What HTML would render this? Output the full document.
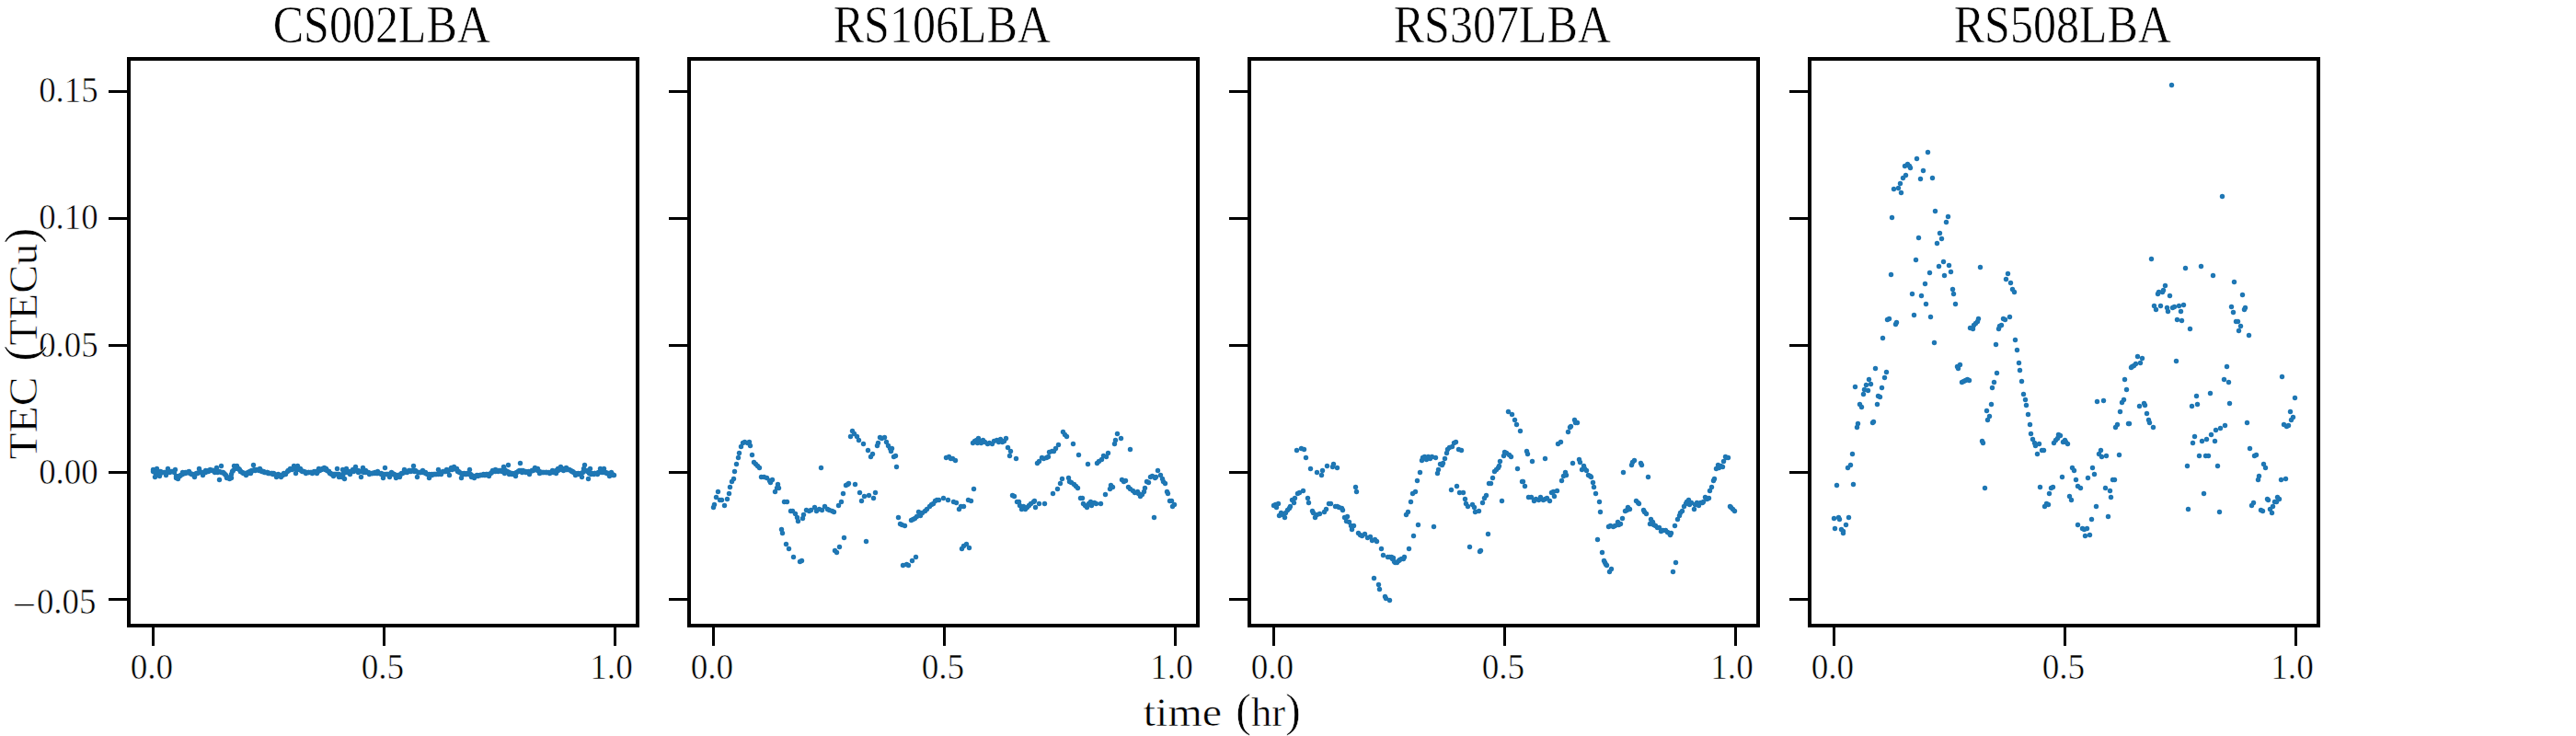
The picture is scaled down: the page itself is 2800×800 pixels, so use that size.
<!DOCTYPE html>
<html lang="en"><head><meta charset="utf-8"><title>TEC vs time</title>
<style>html,body{margin:0;padding:0;background:#fff;}body{width:2800px;height:800px;overflow:hidden;}svg{display:block;}text{font-family:"Liberation Serif", "DejaVu Serif", serif;fill:#000;stroke:#fff;stroke-width:0.55px;}</style></head><body>
<svg width="2800" height="800" viewBox="0 0 2800 800">
<rect width="2800" height="800" fill="#fff"/>
<g transform="translate(0,0)">
<g fill="#1f77b4">
<circle cx="166.5" cy="510.5" r="2.70"/>
<circle cx="168.5" cy="518.5" r="2.70"/>
<circle cx="170.5" cy="509.5" r="2.70"/>
<circle cx="173.5" cy="517.5" r="2.70"/>
<circle cx="174.5" cy="512.5" r="2.70"/>
<circle cx="180.5" cy="516.5" r="2.70"/>
<circle cx="182.5" cy="509.5" r="2.70"/>
<circle cx="184.5" cy="513.5" r="2.70"/>
<circle cx="187.5" cy="512.5" r="2.70"/>
<circle cx="190.5" cy="510.5" r="2.70"/>
<circle cx="191.5" cy="519.5" r="2.70"/>
<circle cx="193.5" cy="520.5" r="2.70"/>
<circle cx="195.5" cy="517.5" r="2.70"/>
<circle cx="198.5" cy="513.5" r="2.70"/>
<circle cx="201.5" cy="514.5" r="2.70"/>
<circle cx="203.5" cy="513.5" r="2.70"/>
<circle cx="205.5" cy="512.5" r="2.70"/>
<circle cx="208.5" cy="515.5" r="2.70"/>
<circle cx="211.5" cy="518.5" r="2.70"/>
<circle cx="214.5" cy="514.5" r="2.70"/>
<circle cx="216.5" cy="509.5" r="2.70"/>
<circle cx="219.5" cy="513.5" r="2.70"/>
<circle cx="220.5" cy="516.5" r="2.70"/>
<circle cx="223.5" cy="511.5" r="2.70"/>
<circle cx="226.5" cy="512.5" r="2.70"/>
<circle cx="228.5" cy="510.5" r="2.70"/>
<circle cx="231.5" cy="511.5" r="2.70"/>
<circle cx="233.5" cy="513.5" r="2.70"/>
<circle cx="235.5" cy="508.5" r="2.70"/>
<circle cx="240.5" cy="506.5" r="2.70"/>
<circle cx="238.5" cy="521.5" r="2.70"/>
<circle cx="242.5" cy="513.5" r="2.70"/>
<circle cx="244.5" cy="515.5" r="2.70"/>
<circle cx="246.5" cy="519.5" r="2.70"/>
<circle cx="249.5" cy="520.5" r="2.70"/>
<circle cx="251.5" cy="519.5" r="2.70"/>
<circle cx="252.5" cy="512.5" r="2.70"/>
<circle cx="254.5" cy="506.5" r="2.70"/>
<circle cx="257.5" cy="506.5" r="2.70"/>
<circle cx="259.5" cy="509.5" r="2.70"/>
<circle cx="261.5" cy="512.5" r="2.70"/>
<circle cx="264.5" cy="514.5" r="2.70"/>
<circle cx="267.5" cy="516.5" r="2.70"/>
<circle cx="269.5" cy="513.5" r="2.70"/>
<circle cx="272.5" cy="514.5" r="2.70"/>
<circle cx="275.5" cy="505.5" r="2.70"/>
<circle cx="277.5" cy="511.5" r="2.70"/>
<circle cx="282.5" cy="509.5" r="2.70"/>
<circle cx="284.5" cy="512.5" r="2.70"/>
<circle cx="287.5" cy="513.5" r="2.70"/>
<circle cx="290.5" cy="513.5" r="2.70"/>
<circle cx="292.5" cy="514.5" r="2.70"/>
<circle cx="295.5" cy="514.5" r="2.70"/>
<circle cx="297.5" cy="514.5" r="2.70"/>
<circle cx="300.5" cy="518.5" r="2.70"/>
<circle cx="302.5" cy="515.5" r="2.70"/>
<circle cx="305.5" cy="518.5" r="2.70"/>
<circle cx="308.5" cy="514.5" r="2.70"/>
<circle cx="310.5" cy="515.5" r="2.70"/>
<circle cx="313.5" cy="511.5" r="2.70"/>
<circle cx="315.5" cy="509.5" r="2.70"/>
<circle cx="319.5" cy="506.5" r="2.70"/>
<circle cx="321.5" cy="514.5" r="2.70"/>
<circle cx="323.5" cy="506.5" r="2.70"/>
<circle cx="326.5" cy="509.5" r="2.70"/>
<circle cx="329.5" cy="512.5" r="2.70"/>
<circle cx="332.5" cy="514.5" r="2.70"/>
<circle cx="335.5" cy="513.5" r="2.70"/>
<circle cx="339.5" cy="514.5" r="2.70"/>
<circle cx="341.5" cy="512.5" r="2.70"/>
<circle cx="344.5" cy="514.5" r="2.70"/>
<circle cx="346.5" cy="509.5" r="2.70"/>
<circle cx="349.5" cy="510.5" r="2.70"/>
<circle cx="352.5" cy="508.5" r="2.70"/>
<circle cx="354.5" cy="509.5" r="2.70"/>
<circle cx="357.5" cy="512.5" r="2.70"/>
<circle cx="359.5" cy="514.5" r="2.70"/>
<circle cx="362.5" cy="517.5" r="2.70"/>
<circle cx="366.5" cy="509.5" r="2.70"/>
<circle cx="364.5" cy="515.5" r="2.70"/>
<circle cx="368.5" cy="518.5" r="2.70"/>
<circle cx="371.5" cy="518.5" r="2.70"/>
<circle cx="374.5" cy="520.5" r="2.70"/>
<circle cx="372.5" cy="510.5" r="2.70"/>
<circle cx="376.5" cy="509.5" r="2.70"/>
<circle cx="378.5" cy="512.5" r="2.70"/>
<circle cx="380.5" cy="515.5" r="2.70"/>
<circle cx="383.5" cy="510.5" r="2.70"/>
<circle cx="386.5" cy="507.5" r="2.70"/>
<circle cx="389.5" cy="513.5" r="2.70"/>
<circle cx="392.5" cy="518.5" r="2.70"/>
<circle cx="394.5" cy="508.5" r="2.70"/>
<circle cx="397.5" cy="511.5" r="2.70"/>
<circle cx="401.5" cy="515.5" r="2.70"/>
<circle cx="404.5" cy="514.5" r="2.70"/>
<circle cx="407.5" cy="513.5" r="2.70"/>
<circle cx="410.5" cy="512.5" r="2.70"/>
<circle cx="414.5" cy="515.5" r="2.70"/>
<circle cx="416.5" cy="519.5" r="2.70"/>
<circle cx="418.5" cy="508.5" r="2.70"/>
<circle cx="421.5" cy="515.5" r="2.70"/>
<circle cx="425.5" cy="513.5" r="2.70"/>
<circle cx="428.5" cy="515.5" r="2.70"/>
<circle cx="423.5" cy="518.5" r="2.70"/>
<circle cx="426.5" cy="514.5" r="2.70"/>
<circle cx="430.5" cy="519.5" r="2.70"/>
<circle cx="434.5" cy="518.5" r="2.70"/>
<circle cx="436.5" cy="514.5" r="2.70"/>
<circle cx="439.5" cy="510.5" r="2.70"/>
<circle cx="442.5" cy="513.5" r="2.70"/>
<circle cx="446.5" cy="512.5" r="2.70"/>
<circle cx="449.5" cy="506.5" r="2.70"/>
<circle cx="451.5" cy="511.5" r="2.70"/>
<circle cx="453.5" cy="518.5" r="2.70"/>
<circle cx="456.5" cy="513.5" r="2.70"/>
<circle cx="459.5" cy="511.5" r="2.70"/>
<circle cx="462.5" cy="513.5" r="2.70"/>
<circle cx="466.5" cy="519.5" r="2.70"/>
<circle cx="469.5" cy="515.5" r="2.70"/>
<circle cx="473.5" cy="515.5" r="2.70"/>
<circle cx="476.5" cy="510.5" r="2.70"/>
<circle cx="479.5" cy="515.5" r="2.70"/>
<circle cx="483.5" cy="512.5" r="2.70"/>
<circle cx="485.5" cy="510.5" r="2.70"/>
<circle cx="488.5" cy="516.5" r="2.70"/>
<circle cx="490.5" cy="508.5" r="2.70"/>
<circle cx="493.5" cy="507.5" r="2.70"/>
<circle cx="496.5" cy="509.5" r="2.70"/>
<circle cx="498.5" cy="512.5" r="2.70"/>
<circle cx="501.5" cy="519.5" r="2.70"/>
<circle cx="504.5" cy="514.5" r="2.70"/>
<circle cx="506.5" cy="515.5" r="2.70"/>
<circle cx="510.5" cy="510.5" r="2.70"/>
<circle cx="512.5" cy="518.5" r="2.70"/>
<circle cx="515.5" cy="519.5" r="2.70"/>
<circle cx="518.5" cy="516.5" r="2.70"/>
<circle cx="522.5" cy="516.5" r="2.70"/>
<circle cx="525.5" cy="515.5" r="2.70"/>
<circle cx="528.5" cy="515.5" r="2.70"/>
<circle cx="531.5" cy="517.5" r="2.70"/>
<circle cx="535.5" cy="511.5" r="2.70"/>
<circle cx="538.5" cy="510.5" r="2.70"/>
<circle cx="541.5" cy="512.5" r="2.70"/>
<circle cx="545.5" cy="512.5" r="2.70"/>
<circle cx="547.5" cy="507.5" r="2.70"/>
<circle cx="548.5" cy="514.5" r="2.70"/>
<circle cx="552.5" cy="505.5" r="2.70"/>
<circle cx="553.5" cy="515.5" r="2.70"/>
<circle cx="556.5" cy="514.5" r="2.70"/>
<circle cx="560.5" cy="517.5" r="2.70"/>
<circle cx="563.5" cy="512.5" r="2.70"/>
<circle cx="565.5" cy="503.5" r="2.70"/>
<circle cx="567.5" cy="513.5" r="2.70"/>
<circle cx="571.5" cy="512.5" r="2.70"/>
<circle cx="575.5" cy="515.5" r="2.70"/>
<circle cx="578.5" cy="511.5" r="2.70"/>
<circle cx="581.5" cy="508.5" r="2.70"/>
<circle cx="584.5" cy="509.5" r="2.70"/>
<circle cx="586.5" cy="514.5" r="2.70"/>
<circle cx="590.5" cy="513.5" r="2.70"/>
<circle cx="593.5" cy="513.5" r="2.70"/>
<circle cx="597.5" cy="514.5" r="2.70"/>
<circle cx="600.5" cy="511.5" r="2.70"/>
<circle cx="604.5" cy="514.5" r="2.70"/>
<circle cx="606.5" cy="509.5" r="2.70"/>
<circle cx="609.5" cy="507.5" r="2.70"/>
<circle cx="612.5" cy="511.5" r="2.70"/>
<circle cx="615.5" cy="508.5" r="2.70"/>
<circle cx="618.5" cy="510.5" r="2.70"/>
<circle cx="622.5" cy="512.5" r="2.70"/>
<circle cx="625.5" cy="516.5" r="2.70"/>
<circle cx="628.5" cy="514.5" r="2.70"/>
<circle cx="632.5" cy="518.5" r="2.70"/>
<circle cx="635.5" cy="505.5" r="2.70"/>
<circle cx="634.5" cy="509.5" r="2.70"/>
<circle cx="638.5" cy="512.5" r="2.70"/>
<circle cx="639.5" cy="520.5" r="2.70"/>
<circle cx="641.5" cy="509.5" r="2.70"/>
<circle cx="642.5" cy="515.5" r="2.70"/>
<circle cx="646.5" cy="514.5" r="2.70"/>
<circle cx="649.5" cy="515.5" r="2.70"/>
<circle cx="652.5" cy="509.5" r="2.70"/>
<circle cx="654.5" cy="513.5" r="2.70"/>
<circle cx="656.5" cy="509.5" r="2.70"/>
<circle cx="659.5" cy="514.5" r="2.70"/>
<circle cx="662.5" cy="517.5" r="2.70"/>
<circle cx="664.5" cy="513.5" r="2.70"/>
<circle cx="667.5" cy="516.5" r="2.70"/>
<circle cx="166.5" cy="512.5" r="2.70"/>
<circle cx="168.5" cy="513.5" r="2.70"/>
<circle cx="169.5" cy="513.5" r="2.70"/>
<circle cx="171.5" cy="514.5" r="2.70"/>
<circle cx="173.5" cy="514.5" r="2.70"/>
<circle cx="174.5" cy="514.5" r="2.70"/>
<circle cx="176.5" cy="513.5" r="2.70"/>
<circle cx="178.5" cy="513.5" r="2.70"/>
<circle cx="179.5" cy="513.5" r="2.70"/>
<circle cx="181.5" cy="513.5" r="2.70"/>
<circle cx="183.5" cy="512.5" r="2.70"/>
<circle cx="184.5" cy="512.5" r="2.70"/>
<circle cx="186.5" cy="512.5" r="2.70"/>
<circle cx="188.5" cy="512.5" r="2.70"/>
<circle cx="189.5" cy="513.5" r="2.70"/>
<circle cx="191.5" cy="517.5" r="2.70"/>
<circle cx="193.5" cy="518.5" r="2.70"/>
<circle cx="194.5" cy="517.5" r="2.70"/>
<circle cx="196.5" cy="516.5" r="2.70"/>
<circle cx="198.5" cy="515.5" r="2.70"/>
<circle cx="199.5" cy="514.5" r="2.70"/>
<circle cx="201.5" cy="513.5" r="2.70"/>
<circle cx="203.5" cy="513.5" r="2.70"/>
<circle cx="204.5" cy="513.5" r="2.70"/>
<circle cx="206.5" cy="514.5" r="2.70"/>
<circle cx="208.5" cy="515.5" r="2.70"/>
<circle cx="209.5" cy="515.5" r="2.70"/>
<circle cx="211.5" cy="515.5" r="2.70"/>
<circle cx="213.5" cy="514.5" r="2.70"/>
<circle cx="214.5" cy="514.5" r="2.70"/>
<circle cx="216.5" cy="513.5" r="2.70"/>
<circle cx="218.5" cy="513.5" r="2.70"/>
<circle cx="219.5" cy="513.5" r="2.70"/>
<circle cx="221.5" cy="513.5" r="2.70"/>
<circle cx="223.5" cy="513.5" r="2.70"/>
<circle cx="224.5" cy="512.5" r="2.70"/>
<circle cx="226.5" cy="511.5" r="2.70"/>
<circle cx="228.5" cy="511.5" r="2.70"/>
<circle cx="230.5" cy="511.5" r="2.70"/>
<circle cx="231.5" cy="511.5" r="2.70"/>
<circle cx="233.5" cy="511.5" r="2.70"/>
<circle cx="235.5" cy="512.5" r="2.70"/>
<circle cx="236.5" cy="513.5" r="2.70"/>
<circle cx="238.5" cy="512.5" r="2.70"/>
<circle cx="240.5" cy="513.5" r="2.70"/>
<circle cx="241.5" cy="513.5" r="2.70"/>
<circle cx="243.5" cy="514.5" r="2.70"/>
<circle cx="245.5" cy="516.5" r="2.70"/>
<circle cx="246.5" cy="518.5" r="2.70"/>
<circle cx="248.5" cy="519.5" r="2.70"/>
<circle cx="250.5" cy="518.5" r="2.70"/>
<circle cx="251.5" cy="515.5" r="2.70"/>
<circle cx="253.5" cy="511.5" r="2.70"/>
<circle cx="255.5" cy="509.5" r="2.70"/>
<circle cx="256.5" cy="508.5" r="2.70"/>
<circle cx="258.5" cy="509.5" r="2.70"/>
<circle cx="260.5" cy="510.5" r="2.70"/>
<circle cx="261.5" cy="512.5" r="2.70"/>
<circle cx="263.5" cy="513.5" r="2.70"/>
<circle cx="265.5" cy="514.5" r="2.70"/>
<circle cx="266.5" cy="514.5" r="2.70"/>
<circle cx="268.5" cy="514.5" r="2.70"/>
<circle cx="270.5" cy="514.5" r="2.70"/>
<circle cx="271.5" cy="512.5" r="2.70"/>
<circle cx="273.5" cy="511.5" r="2.70"/>
<circle cx="275.5" cy="511.5" r="2.70"/>
<circle cx="276.5" cy="510.5" r="2.70"/>
<circle cx="278.5" cy="510.5" r="2.70"/>
<circle cx="280.5" cy="510.5" r="2.70"/>
<circle cx="281.5" cy="511.5" r="2.70"/>
<circle cx="283.5" cy="511.5" r="2.70"/>
<circle cx="285.5" cy="512.5" r="2.70"/>
<circle cx="286.5" cy="512.5" r="2.70"/>
<circle cx="288.5" cy="513.5" r="2.70"/>
<circle cx="290.5" cy="513.5" r="2.70"/>
<circle cx="291.5" cy="514.5" r="2.70"/>
<circle cx="293.5" cy="514.5" r="2.70"/>
<circle cx="295.5" cy="514.5" r="2.70"/>
<circle cx="296.5" cy="515.5" r="2.70"/>
<circle cx="298.5" cy="515.5" r="2.70"/>
<circle cx="300.5" cy="516.5" r="2.70"/>
<circle cx="301.5" cy="516.5" r="2.70"/>
<circle cx="303.5" cy="516.5" r="2.70"/>
<circle cx="305.5" cy="516.5" r="2.70"/>
<circle cx="307.5" cy="516.5" r="2.70"/>
<circle cx="308.5" cy="515.5" r="2.70"/>
<circle cx="310.5" cy="514.5" r="2.70"/>
<circle cx="312.5" cy="512.5" r="2.70"/>
<circle cx="313.5" cy="511.5" r="2.70"/>
<circle cx="315.5" cy="510.5" r="2.70"/>
<circle cx="317.5" cy="510.5" r="2.70"/>
<circle cx="318.5" cy="509.5" r="2.70"/>
<circle cx="320.5" cy="509.5" r="2.70"/>
<circle cx="322.5" cy="509.5" r="2.70"/>
<circle cx="323.5" cy="510.5" r="2.70"/>
<circle cx="325.5" cy="510.5" r="2.70"/>
<circle cx="327.5" cy="511.5" r="2.70"/>
<circle cx="328.5" cy="512.5" r="2.70"/>
<circle cx="330.5" cy="512.5" r="2.70"/>
<circle cx="332.5" cy="513.5" r="2.70"/>
<circle cx="333.5" cy="513.5" r="2.70"/>
<circle cx="335.5" cy="513.5" r="2.70"/>
<circle cx="337.5" cy="513.5" r="2.70"/>
<circle cx="338.5" cy="513.5" r="2.70"/>
<circle cx="340.5" cy="513.5" r="2.70"/>
<circle cx="342.5" cy="513.5" r="2.70"/>
<circle cx="343.5" cy="512.5" r="2.70"/>
<circle cx="345.5" cy="512.5" r="2.70"/>
<circle cx="347.5" cy="511.5" r="2.70"/>
<circle cx="348.5" cy="510.5" r="2.70"/>
<circle cx="350.5" cy="509.5" r="2.70"/>
<circle cx="352.5" cy="509.5" r="2.70"/>
<circle cx="353.5" cy="510.5" r="2.70"/>
<circle cx="355.5" cy="511.5" r="2.70"/>
<circle cx="357.5" cy="512.5" r="2.70"/>
<circle cx="358.5" cy="514.5" r="2.70"/>
<circle cx="360.5" cy="515.5" r="2.70"/>
<circle cx="362.5" cy="515.5" r="2.70"/>
<circle cx="363.5" cy="515.5" r="2.70"/>
<circle cx="365.5" cy="515.5" r="2.70"/>
<circle cx="367.5" cy="515.5" r="2.70"/>
<circle cx="368.5" cy="515.5" r="2.70"/>
<circle cx="370.5" cy="516.5" r="2.70"/>
<circle cx="372.5" cy="517.5" r="2.70"/>
<circle cx="373.5" cy="514.5" r="2.70"/>
<circle cx="375.5" cy="513.5" r="2.70"/>
<circle cx="377.5" cy="513.5" r="2.70"/>
<circle cx="378.5" cy="512.5" r="2.70"/>
<circle cx="380.5" cy="512.5" r="2.70"/>
<circle cx="382.5" cy="512.5" r="2.70"/>
<circle cx="384.5" cy="512.5" r="2.70"/>
<circle cx="385.5" cy="511.5" r="2.70"/>
<circle cx="387.5" cy="511.5" r="2.70"/>
<circle cx="389.5" cy="511.5" r="2.70"/>
<circle cx="390.5" cy="512.5" r="2.70"/>
<circle cx="392.5" cy="512.5" r="2.70"/>
<circle cx="394.5" cy="512.5" r="2.70"/>
<circle cx="395.5" cy="513.5" r="2.70"/>
<circle cx="397.5" cy="513.5" r="2.70"/>
<circle cx="399.5" cy="513.5" r="2.70"/>
<circle cx="400.5" cy="513.5" r="2.70"/>
<circle cx="402.5" cy="514.5" r="2.70"/>
<circle cx="404.5" cy="514.5" r="2.70"/>
<circle cx="405.5" cy="514.5" r="2.70"/>
<circle cx="407.5" cy="514.5" r="2.70"/>
<circle cx="409.5" cy="514.5" r="2.70"/>
<circle cx="410.5" cy="514.5" r="2.70"/>
<circle cx="412.5" cy="514.5" r="2.70"/>
<circle cx="414.5" cy="514.5" r="2.70"/>
<circle cx="415.5" cy="515.5" r="2.70"/>
<circle cx="417.5" cy="515.5" r="2.70"/>
<circle cx="419.5" cy="515.5" r="2.70"/>
<circle cx="420.5" cy="515.5" r="2.70"/>
<circle cx="422.5" cy="515.5" r="2.70"/>
<circle cx="424.5" cy="515.5" r="2.70"/>
<circle cx="425.5" cy="515.5" r="2.70"/>
<circle cx="427.5" cy="515.5" r="2.70"/>
<circle cx="429.5" cy="516.5" r="2.70"/>
<circle cx="430.5" cy="516.5" r="2.70"/>
<circle cx="432.5" cy="516.5" r="2.70"/>
<circle cx="434.5" cy="516.5" r="2.70"/>
<circle cx="435.5" cy="515.5" r="2.70"/>
<circle cx="437.5" cy="514.5" r="2.70"/>
<circle cx="439.5" cy="513.5" r="2.70"/>
<circle cx="440.5" cy="512.5" r="2.70"/>
<circle cx="442.5" cy="512.5" r="2.70"/>
<circle cx="444.5" cy="511.5" r="2.70"/>
<circle cx="445.5" cy="511.5" r="2.70"/>
<circle cx="447.5" cy="511.5" r="2.70"/>
<circle cx="449.5" cy="511.5" r="2.70"/>
<circle cx="450.5" cy="512.5" r="2.70"/>
<circle cx="452.5" cy="512.5" r="2.70"/>
<circle cx="454.5" cy="513.5" r="2.70"/>
<circle cx="456.5" cy="513.5" r="2.70"/>
<circle cx="457.5" cy="513.5" r="2.70"/>
<circle cx="459.5" cy="513.5" r="2.70"/>
<circle cx="461.5" cy="513.5" r="2.70"/>
<circle cx="462.5" cy="514.5" r="2.70"/>
<circle cx="464.5" cy="515.5" r="2.70"/>
<circle cx="466.5" cy="515.5" r="2.70"/>
<circle cx="467.5" cy="516.5" r="2.70"/>
<circle cx="469.5" cy="516.5" r="2.70"/>
<circle cx="471.5" cy="515.5" r="2.70"/>
<circle cx="472.5" cy="515.5" r="2.70"/>
<circle cx="474.5" cy="515.5" r="2.70"/>
<circle cx="476.5" cy="515.5" r="2.70"/>
<circle cx="477.5" cy="514.5" r="2.70"/>
<circle cx="479.5" cy="513.5" r="2.70"/>
<circle cx="481.5" cy="512.5" r="2.70"/>
<circle cx="482.5" cy="512.5" r="2.70"/>
<circle cx="484.5" cy="512.5" r="2.70"/>
<circle cx="486.5" cy="512.5" r="2.70"/>
<circle cx="487.5" cy="511.5" r="2.70"/>
<circle cx="489.5" cy="510.5" r="2.70"/>
<circle cx="491.5" cy="510.5" r="2.70"/>
<circle cx="492.5" cy="509.5" r="2.70"/>
<circle cx="494.5" cy="509.5" r="2.70"/>
<circle cx="496.5" cy="510.5" r="2.70"/>
<circle cx="497.5" cy="512.5" r="2.70"/>
<circle cx="499.5" cy="513.5" r="2.70"/>
<circle cx="501.5" cy="514.5" r="2.70"/>
<circle cx="502.5" cy="515.5" r="2.70"/>
<circle cx="504.5" cy="515.5" r="2.70"/>
<circle cx="506.5" cy="515.5" r="2.70"/>
<circle cx="507.5" cy="514.5" r="2.70"/>
<circle cx="509.5" cy="515.5" r="2.70"/>
<circle cx="511.5" cy="515.5" r="2.70"/>
<circle cx="512.5" cy="516.5" r="2.70"/>
<circle cx="514.5" cy="517.5" r="2.70"/>
<circle cx="516.5" cy="517.5" r="2.70"/>
<circle cx="517.5" cy="517.5" r="2.70"/>
<circle cx="519.5" cy="517.5" r="2.70"/>
<circle cx="521.5" cy="516.5" r="2.70"/>
<circle cx="522.5" cy="516.5" r="2.70"/>
<circle cx="524.5" cy="516.5" r="2.70"/>
<circle cx="526.5" cy="516.5" r="2.70"/>
<circle cx="527.5" cy="516.5" r="2.70"/>
<circle cx="529.5" cy="515.5" r="2.70"/>
<circle cx="531.5" cy="515.5" r="2.70"/>
<circle cx="533.5" cy="514.5" r="2.70"/>
<circle cx="534.5" cy="513.5" r="2.70"/>
<circle cx="536.5" cy="512.5" r="2.70"/>
<circle cx="538.5" cy="512.5" r="2.70"/>
<circle cx="539.5" cy="511.5" r="2.70"/>
<circle cx="541.5" cy="511.5" r="2.70"/>
<circle cx="543.5" cy="511.5" r="2.70"/>
<circle cx="544.5" cy="511.5" r="2.70"/>
<circle cx="546.5" cy="511.5" r="2.70"/>
<circle cx="548.5" cy="510.5" r="2.70"/>
<circle cx="549.5" cy="511.5" r="2.70"/>
<circle cx="551.5" cy="512.5" r="2.70"/>
<circle cx="553.5" cy="513.5" r="2.70"/>
<circle cx="554.5" cy="514.5" r="2.70"/>
<circle cx="556.5" cy="515.5" r="2.70"/>
<circle cx="558.5" cy="515.5" r="2.70"/>
<circle cx="559.5" cy="514.5" r="2.70"/>
<circle cx="561.5" cy="513.5" r="2.70"/>
<circle cx="563.5" cy="512.5" r="2.70"/>
<circle cx="564.5" cy="511.5" r="2.70"/>
<circle cx="566.5" cy="511.5" r="2.70"/>
<circle cx="568.5" cy="511.5" r="2.70"/>
<circle cx="569.5" cy="512.5" r="2.70"/>
<circle cx="571.5" cy="513.5" r="2.70"/>
<circle cx="573.5" cy="513.5" r="2.70"/>
<circle cx="574.5" cy="512.5" r="2.70"/>
<circle cx="576.5" cy="512.5" r="2.70"/>
<circle cx="578.5" cy="511.5" r="2.70"/>
<circle cx="579.5" cy="511.5" r="2.70"/>
<circle cx="581.5" cy="510.5" r="2.70"/>
<circle cx="583.5" cy="510.5" r="2.70"/>
<circle cx="584.5" cy="511.5" r="2.70"/>
<circle cx="586.5" cy="512.5" r="2.70"/>
<circle cx="588.5" cy="513.5" r="2.70"/>
<circle cx="589.5" cy="513.5" r="2.70"/>
<circle cx="591.5" cy="513.5" r="2.70"/>
<circle cx="593.5" cy="513.5" r="2.70"/>
<circle cx="594.5" cy="513.5" r="2.70"/>
<circle cx="596.5" cy="513.5" r="2.70"/>
<circle cx="598.5" cy="513.5" r="2.70"/>
<circle cx="599.5" cy="513.5" r="2.70"/>
<circle cx="601.5" cy="513.5" r="2.70"/>
<circle cx="603.5" cy="512.5" r="2.70"/>
<circle cx="604.5" cy="511.5" r="2.70"/>
<circle cx="606.5" cy="511.5" r="2.70"/>
<circle cx="608.5" cy="510.5" r="2.70"/>
<circle cx="610.5" cy="509.5" r="2.70"/>
<circle cx="611.5" cy="509.5" r="2.70"/>
<circle cx="613.5" cy="509.5" r="2.70"/>
<circle cx="615.5" cy="510.5" r="2.70"/>
<circle cx="616.5" cy="510.5" r="2.70"/>
<circle cx="618.5" cy="510.5" r="2.70"/>
<circle cx="620.5" cy="511.5" r="2.70"/>
<circle cx="621.5" cy="512.5" r="2.70"/>
<circle cx="623.5" cy="513.5" r="2.70"/>
<circle cx="625.5" cy="514.5" r="2.70"/>
<circle cx="626.5" cy="515.5" r="2.70"/>
<circle cx="628.5" cy="515.5" r="2.70"/>
<circle cx="630.5" cy="515.5" r="2.70"/>
<circle cx="631.5" cy="514.5" r="2.70"/>
<circle cx="633.5" cy="513.5" r="2.70"/>
<circle cx="635.5" cy="511.5" r="2.70"/>
<circle cx="636.5" cy="511.5" r="2.70"/>
<circle cx="638.5" cy="511.5" r="2.70"/>
<circle cx="640.5" cy="514.5" r="2.70"/>
<circle cx="641.5" cy="514.5" r="2.70"/>
<circle cx="643.5" cy="514.5" r="2.70"/>
<circle cx="645.5" cy="515.5" r="2.70"/>
<circle cx="646.5" cy="514.5" r="2.70"/>
<circle cx="648.5" cy="514.5" r="2.70"/>
<circle cx="650.5" cy="513.5" r="2.70"/>
<circle cx="651.5" cy="513.5" r="2.70"/>
<circle cx="653.5" cy="512.5" r="2.70"/>
<circle cx="655.5" cy="512.5" r="2.70"/>
<circle cx="656.5" cy="513.5" r="2.70"/>
<circle cx="658.5" cy="513.5" r="2.70"/>
<circle cx="660.5" cy="514.5" r="2.70"/>
<circle cx="661.5" cy="514.5" r="2.70"/>
<circle cx="663.5" cy="515.5" r="2.70"/>
<circle cx="665.5" cy="515.5" r="2.70"/>
<circle cx="666.5" cy="516.5" r="2.70"/>
</g>
<g stroke="#000" stroke-width="3.00" fill="none">
<line x1="118.00" y1="99.50" x2="140.00" y2="99.50"/>
<line x1="118.00" y1="237.50" x2="140.00" y2="237.50"/>
<line x1="118.00" y1="375.50" x2="140.00" y2="375.50"/>
<line x1="118.00" y1="513.50" x2="140.00" y2="513.50"/>
<line x1="118.00" y1="651.50" x2="140.00" y2="651.50"/>
<line x1="166.50" y1="680.00" x2="166.50" y2="702.00"/>
<line x1="417.50" y1="680.00" x2="417.50" y2="702.00"/>
<line x1="668.50" y1="680.00" x2="668.50" y2="702.00"/>
</g>
<rect x="140.00" y="64.00" width="553.00" height="616.00" fill="none" stroke="#000" stroke-width="4.00"/>
<text x="164.90" y="737.7" font-size="40.5" text-anchor="middle" textLength="46.5" lengthAdjust="spacingAndGlyphs">0.0</text>
<text x="415.90" y="737.7" font-size="40.5" text-anchor="middle" textLength="46.5" lengthAdjust="spacingAndGlyphs">0.5</text>
<text x="664.50" y="737.7" font-size="40.5" text-anchor="middle" textLength="46.5" lengthAdjust="spacingAndGlyphs">1.0</text>
<text x="414.80" y="45.8" font-size="56" stroke-width="0.8" text-anchor="middle" textLength="236" lengthAdjust="spacingAndGlyphs">CS002LBA</text>
</g>
<g transform="translate(609,0)">
<g fill="#1f77b4">
<circle cx="166.5" cy="551.5" r="2.70"/>
<circle cx="167.5" cy="548.5" r="2.70"/>
<circle cx="169.5" cy="540.5" r="2.70"/>
<circle cx="171.5" cy="534.5" r="2.70"/>
<circle cx="173.5" cy="543.5" r="2.70"/>
<circle cx="175.5" cy="543.5" r="2.70"/>
<circle cx="178.5" cy="549.5" r="2.70"/>
<circle cx="181.5" cy="542.5" r="2.70"/>
<circle cx="183.5" cy="536.5" r="2.70"/>
<circle cx="184.5" cy="529.5" r="2.70"/>
<circle cx="186.5" cy="523.5" r="2.70"/>
<circle cx="188.5" cy="520.5" r="2.70"/>
<circle cx="189.5" cy="512.5" r="2.70"/>
<circle cx="191.5" cy="504.5" r="2.70"/>
<circle cx="193.5" cy="497.5" r="2.70"/>
<circle cx="194.5" cy="492.5" r="2.70"/>
<circle cx="196.5" cy="485.5" r="2.70"/>
<circle cx="198.5" cy="481.5" r="2.70"/>
<circle cx="200.5" cy="480.5" r="2.70"/>
<circle cx="203.5" cy="481.5" r="2.70"/>
<circle cx="205.5" cy="480.5" r="2.70"/>
<circle cx="206.5" cy="484.5" r="2.70"/>
<circle cx="208.5" cy="494.5" r="2.70"/>
<circle cx="210.5" cy="502.5" r="2.70"/>
<circle cx="212.5" cy="504.5" r="2.70"/>
<circle cx="214.5" cy="506.5" r="2.70"/>
<circle cx="216.5" cy="508.5" r="2.70"/>
<circle cx="218.5" cy="518.5" r="2.70"/>
<circle cx="221.5" cy="518.5" r="2.70"/>
<circle cx="224.5" cy="519.5" r="2.70"/>
<circle cx="227.5" cy="522.5" r="2.70"/>
<circle cx="230.5" cy="521.5" r="2.70"/>
<circle cx="228.5" cy="524.5" r="2.70"/>
<circle cx="236.5" cy="526.5" r="2.70"/>
<circle cx="235.5" cy="530.5" r="2.70"/>
<circle cx="237.5" cy="530.5" r="2.70"/>
<circle cx="233.5" cy="534.5" r="2.70"/>
<circle cx="243.5" cy="545.5" r="2.70"/>
<circle cx="246.5" cy="545.5" r="2.70"/>
<circle cx="250.5" cy="555.5" r="2.70"/>
<circle cx="252.5" cy="555.5" r="2.70"/>
<circle cx="255.5" cy="558.5" r="2.70"/>
<circle cx="257.5" cy="562.5" r="2.70"/>
<circle cx="258.5" cy="566.5" r="2.70"/>
<circle cx="263.5" cy="563.5" r="2.70"/>
<circle cx="264.5" cy="559.5" r="2.70"/>
<circle cx="267.5" cy="554.5" r="2.70"/>
<circle cx="270.5" cy="555.5" r="2.70"/>
<circle cx="272.5" cy="554.5" r="2.70"/>
<circle cx="276.5" cy="551.5" r="2.70"/>
<circle cx="278.5" cy="555.5" r="2.70"/>
<circle cx="281.5" cy="553.5" r="2.70"/>
<circle cx="284.5" cy="554.5" r="2.70"/>
<circle cx="287.5" cy="550.5" r="2.70"/>
<circle cx="290.5" cy="553.5" r="2.70"/>
<circle cx="292.5" cy="554.5" r="2.70"/>
<circle cx="295.5" cy="555.5" r="2.70"/>
<circle cx="297.5" cy="556.5" r="2.70"/>
<circle cx="302.5" cy="549.5" r="2.70"/>
<circle cx="305.5" cy="545.5" r="2.70"/>
<circle cx="307.5" cy="536.5" r="2.70"/>
<circle cx="310.5" cy="527.5" r="2.70"/>
<circle cx="312.5" cy="526.5" r="2.70"/>
<circle cx="313.5" cy="525.5" r="2.70"/>
<circle cx="320.5" cy="526.5" r="2.70"/>
<circle cx="325.5" cy="535.5" r="2.70"/>
<circle cx="330.5" cy="539.5" r="2.70"/>
<circle cx="327.5" cy="544.5" r="2.70"/>
<circle cx="335.5" cy="538.5" r="2.70"/>
<circle cx="340.5" cy="541.5" r="2.70"/>
<circle cx="342.5" cy="535.5" r="2.70"/>
<circle cx="240.5" cy="575.5" r="2.70"/>
<circle cx="241.5" cy="579.5" r="2.70"/>
<circle cx="245.5" cy="591.5" r="2.70"/>
<circle cx="248.5" cy="596.5" r="2.70"/>
<circle cx="253.5" cy="605.5" r="2.70"/>
<circle cx="260.5" cy="610.5" r="2.70"/>
<circle cx="262.5" cy="609.5" r="2.70"/>
<circle cx="298.5" cy="598.5" r="2.70"/>
<circle cx="300.5" cy="600.5" r="2.70"/>
<circle cx="303.5" cy="594.5" r="2.70"/>
<circle cx="308.5" cy="584.5" r="2.70"/>
<circle cx="332.5" cy="588.5" r="2.70"/>
<circle cx="283.5" cy="508.5" r="2.70"/>
<circle cx="315.5" cy="474.5" r="2.70"/>
<circle cx="317.5" cy="468.5" r="2.70"/>
<circle cx="319.5" cy="471.5" r="2.70"/>
<circle cx="322.5" cy="474.5" r="2.70"/>
<circle cx="324.5" cy="478.5" r="2.70"/>
<circle cx="329.5" cy="482.5" r="2.70"/>
<circle cx="334.5" cy="489.5" r="2.70"/>
<circle cx="339.5" cy="493.5" r="2.70"/>
<circle cx="337.5" cy="496.5" r="2.70"/>
<circle cx="344.5" cy="484.5" r="2.70"/>
<circle cx="345.5" cy="481.5" r="2.70"/>
<circle cx="347.5" cy="475.5" r="2.70"/>
<circle cx="349.5" cy="476.5" r="2.70"/>
<circle cx="352.5" cy="475.5" r="2.70"/>
<circle cx="354.5" cy="480.5" r="2.70"/>
<circle cx="356.5" cy="484.5" r="2.70"/>
<circle cx="358.5" cy="487.5" r="2.70"/>
<circle cx="360.5" cy="487.5" r="2.70"/>
<circle cx="359.5" cy="490.5" r="2.70"/>
<circle cx="362.5" cy="496.5" r="2.70"/>
<circle cx="364.5" cy="495.5" r="2.70"/>
<circle cx="365.5" cy="507.5" r="2.70"/>
<circle cx="367.5" cy="562.5" r="2.70"/>
<circle cx="369.5" cy="569.5" r="2.70"/>
<circle cx="371.5" cy="570.5" r="2.70"/>
<circle cx="374.5" cy="571.5" r="2.70"/>
<circle cx="381.5" cy="565.5" r="2.70"/>
<circle cx="383.5" cy="564.5" r="2.70"/>
<circle cx="385.5" cy="563.5" r="2.70"/>
<circle cx="389.5" cy="556.5" r="2.70"/>
<circle cx="387.5" cy="561.5" r="2.70"/>
<circle cx="391.5" cy="560.5" r="2.70"/>
<circle cx="393.5" cy="557.5" r="2.70"/>
<circle cx="396.5" cy="555.5" r="2.70"/>
<circle cx="398.5" cy="553.5" r="2.70"/>
<circle cx="401.5" cy="550.5" r="2.70"/>
<circle cx="403.5" cy="548.5" r="2.70"/>
<circle cx="405.5" cy="547.5" r="2.70"/>
<circle cx="407.5" cy="544.5" r="2.70"/>
<circle cx="409.5" cy="543.5" r="2.70"/>
<circle cx="411.5" cy="543.5" r="2.70"/>
<circle cx="416.5" cy="541.5" r="2.70"/>
<circle cx="421.5" cy="543.5" r="2.70"/>
<circle cx="427.5" cy="545.5" r="2.70"/>
<circle cx="430.5" cy="546.5" r="2.70"/>
<circle cx="372.5" cy="614.5" r="2.70"/>
<circle cx="376.5" cy="613.5" r="2.70"/>
<circle cx="378.5" cy="614.5" r="2.70"/>
<circle cx="382.5" cy="609.5" r="2.70"/>
<circle cx="386.5" cy="605.5" r="2.70"/>
<circle cx="419.5" cy="497.5" r="2.70"/>
<circle cx="422.5" cy="496.5" r="2.70"/>
<circle cx="426.5" cy="498.5" r="2.70"/>
<circle cx="429.5" cy="500.5" r="2.70"/>
<circle cx="424.5" cy="498.5" r="2.70"/>
<circle cx="433.5" cy="553.5" r="2.70"/>
<circle cx="435.5" cy="550.5" r="2.70"/>
<circle cx="438.5" cy="550.5" r="2.70"/>
<circle cx="443.5" cy="543.5" r="2.70"/>
<circle cx="446.5" cy="544.5" r="2.70"/>
<circle cx="449.5" cy="531.5" r="2.70"/>
<circle cx="436.5" cy="596.5" r="2.70"/>
<circle cx="438.5" cy="593.5" r="2.70"/>
<circle cx="441.5" cy="591.5" r="2.70"/>
<circle cx="444.5" cy="595.5" r="2.70"/>
<circle cx="448.5" cy="481.5" r="2.70"/>
<circle cx="450.5" cy="479.5" r="2.70"/>
<circle cx="452.5" cy="478.5" r="2.70"/>
<circle cx="454.5" cy="476.5" r="2.70"/>
<circle cx="453.5" cy="481.5" r="2.70"/>
<circle cx="455.5" cy="479.5" r="2.70"/>
<circle cx="457.5" cy="481.5" r="2.70"/>
<circle cx="459.5" cy="478.5" r="2.70"/>
<circle cx="461.5" cy="480.5" r="2.70"/>
<circle cx="464.5" cy="482.5" r="2.70"/>
<circle cx="466.5" cy="481.5" r="2.70"/>
<circle cx="469.5" cy="482.5" r="2.70"/>
<circle cx="471.5" cy="479.5" r="2.70"/>
<circle cx="474.5" cy="478.5" r="2.70"/>
<circle cx="476.5" cy="480.5" r="2.70"/>
<circle cx="478.5" cy="477.5" r="2.70"/>
<circle cx="480.5" cy="480.5" r="2.70"/>
<circle cx="482.5" cy="479.5" r="2.70"/>
<circle cx="484.5" cy="476.5" r="2.70"/>
<circle cx="486.5" cy="486.5" r="2.70"/>
<circle cx="489.5" cy="490.5" r="2.70"/>
<circle cx="488.5" cy="495.5" r="2.70"/>
<circle cx="495.5" cy="498.5" r="2.70"/>
<circle cx="491.5" cy="538.5" r="2.70"/>
<circle cx="493.5" cy="539.5" r="2.70"/>
<circle cx="496.5" cy="545.5" r="2.70"/>
<circle cx="498.5" cy="545.5" r="2.70"/>
<circle cx="499.5" cy="549.5" r="2.70"/>
<circle cx="501.5" cy="553.5" r="2.70"/>
<circle cx="503.5" cy="550.5" r="2.70"/>
<circle cx="505.5" cy="553.5" r="2.70"/>
<circle cx="507.5" cy="551.5" r="2.70"/>
<circle cx="509.5" cy="549.5" r="2.70"/>
<circle cx="511.5" cy="547.5" r="2.70"/>
<circle cx="514.5" cy="545.5" r="2.70"/>
<circle cx="515.5" cy="544.5" r="2.70"/>
<circle cx="516.5" cy="551.5" r="2.70"/>
<circle cx="520.5" cy="547.5" r="2.70"/>
<circle cx="526.5" cy="547.5" r="2.70"/>
<circle cx="518.5" cy="503.5" r="2.70"/>
<circle cx="520.5" cy="501.5" r="2.70"/>
<circle cx="523.5" cy="497.5" r="2.70"/>
<circle cx="525.5" cy="498.5" r="2.70"/>
<circle cx="528.5" cy="497.5" r="2.70"/>
<circle cx="530.5" cy="496.5" r="2.70"/>
<circle cx="531.5" cy="491.5" r="2.70"/>
<circle cx="534.5" cy="490.5" r="2.70"/>
<circle cx="536.5" cy="490.5" r="2.70"/>
<circle cx="538.5" cy="487.5" r="2.70"/>
<circle cx="541.5" cy="483.5" r="2.70"/>
<circle cx="546.5" cy="469.5" r="2.70"/>
<circle cx="548.5" cy="472.5" r="2.70"/>
<circle cx="550.5" cy="474.5" r="2.70"/>
<circle cx="557.5" cy="482.5" r="2.70"/>
<circle cx="563.5" cy="494.5" r="2.70"/>
<circle cx="573.5" cy="504.5" r="2.70"/>
<circle cx="535.5" cy="536.5" r="2.70"/>
<circle cx="540.5" cy="531.5" r="2.70"/>
<circle cx="543.5" cy="525.5" r="2.70"/>
<circle cx="545.5" cy="520.5" r="2.70"/>
<circle cx="552.5" cy="519.5" r="2.70"/>
<circle cx="553.5" cy="523.5" r="2.70"/>
<circle cx="555.5" cy="524.5" r="2.70"/>
<circle cx="558.5" cy="526.5" r="2.70"/>
<circle cx="560.5" cy="528.5" r="2.70"/>
<circle cx="562.5" cy="530.5" r="2.70"/>
<circle cx="565.5" cy="541.5" r="2.70"/>
<circle cx="567.5" cy="541.5" r="2.70"/>
<circle cx="568.5" cy="547.5" r="2.70"/>
<circle cx="570.5" cy="549.5" r="2.70"/>
<circle cx="572.5" cy="551.5" r="2.70"/>
<circle cx="574.5" cy="547.5" r="2.70"/>
<circle cx="576.5" cy="545.5" r="2.70"/>
<circle cx="577.5" cy="549.5" r="2.70"/>
<circle cx="580.5" cy="546.5" r="2.70"/>
<circle cx="582.5" cy="547.5" r="2.70"/>
<circle cx="587.5" cy="547.5" r="2.70"/>
<circle cx="592.5" cy="537.5" r="2.70"/>
<circle cx="597.5" cy="531.5" r="2.70"/>
<circle cx="598.5" cy="527.5" r="2.70"/>
<circle cx="600.5" cy="529.5" r="2.70"/>
<circle cx="583.5" cy="503.5" r="2.70"/>
<circle cx="585.5" cy="501.5" r="2.70"/>
<circle cx="588.5" cy="499.5" r="2.70"/>
<circle cx="590.5" cy="495.5" r="2.70"/>
<circle cx="593.5" cy="496.5" r="2.70"/>
<circle cx="595.5" cy="492.5" r="2.70"/>
<circle cx="602.5" cy="482.5" r="2.70"/>
<circle cx="603.5" cy="478.5" r="2.70"/>
<circle cx="605.5" cy="471.5" r="2.70"/>
<circle cx="609.5" cy="476.5" r="2.70"/>
<circle cx="619.5" cy="488.5" r="2.70"/>
<circle cx="610.5" cy="521.5" r="2.70"/>
<circle cx="612.5" cy="523.5" r="2.70"/>
<circle cx="614.5" cy="522.5" r="2.70"/>
<circle cx="617.5" cy="529.5" r="2.70"/>
<circle cx="619.5" cy="531.5" r="2.70"/>
<circle cx="622.5" cy="533.5" r="2.70"/>
<circle cx="624.5" cy="535.5" r="2.70"/>
<circle cx="627.5" cy="534.5" r="2.70"/>
<circle cx="628.5" cy="536.5" r="2.70"/>
<circle cx="630.5" cy="539.5" r="2.70"/>
<circle cx="632.5" cy="537.5" r="2.70"/>
<circle cx="634.5" cy="534.5" r="2.70"/>
<circle cx="635.5" cy="530.5" r="2.70"/>
<circle cx="637.5" cy="523.5" r="2.70"/>
<circle cx="639.5" cy="524.5" r="2.70"/>
<circle cx="641.5" cy="518.5" r="2.70"/>
<circle cx="643.5" cy="517.5" r="2.70"/>
<circle cx="646.5" cy="519.5" r="2.70"/>
<circle cx="647.5" cy="518.5" r="2.70"/>
<circle cx="649.5" cy="511.5" r="2.70"/>
<circle cx="652.5" cy="516.5" r="2.70"/>
<circle cx="654.5" cy="520.5" r="2.70"/>
<circle cx="655.5" cy="523.5" r="2.70"/>
<circle cx="657.5" cy="525.5" r="2.70"/>
<circle cx="659.5" cy="534.5" r="2.70"/>
<circle cx="660.5" cy="536.5" r="2.70"/>
<circle cx="662.5" cy="544.5" r="2.70"/>
<circle cx="664.5" cy="544.5" r="2.70"/>
<circle cx="665.5" cy="550.5" r="2.70"/>
<circle cx="667.5" cy="548.5" r="2.70"/>
<circle cx="645.5" cy="562.5" r="2.70"/>
</g>
<g stroke="#000" stroke-width="3.00" fill="none">
<line x1="118.00" y1="99.50" x2="140.00" y2="99.50"/>
<line x1="118.00" y1="237.50" x2="140.00" y2="237.50"/>
<line x1="118.00" y1="375.50" x2="140.00" y2="375.50"/>
<line x1="118.00" y1="513.50" x2="140.00" y2="513.50"/>
<line x1="118.00" y1="651.50" x2="140.00" y2="651.50"/>
<line x1="166.50" y1="680.00" x2="166.50" y2="702.00"/>
<line x1="417.50" y1="680.00" x2="417.50" y2="702.00"/>
<line x1="668.50" y1="680.00" x2="668.50" y2="702.00"/>
</g>
<rect x="140.00" y="64.00" width="553.00" height="616.00" fill="none" stroke="#000" stroke-width="4.00"/>
<text x="164.90" y="737.7" font-size="40.5" text-anchor="middle" textLength="46.5" lengthAdjust="spacingAndGlyphs">0.0</text>
<text x="415.90" y="737.7" font-size="40.5" text-anchor="middle" textLength="46.5" lengthAdjust="spacingAndGlyphs">0.5</text>
<text x="664.50" y="737.7" font-size="40.5" text-anchor="middle" textLength="46.5" lengthAdjust="spacingAndGlyphs">1.0</text>
<text x="414.80" y="45.8" font-size="56" stroke-width="0.8" text-anchor="middle" textLength="236" lengthAdjust="spacingAndGlyphs">RS106LBA</text>
</g>
<g transform="translate(1218,0)">
<g fill="#1f77b4">
<circle cx="166.5" cy="549.5" r="2.70"/>
<circle cx="168.5" cy="548.5" r="2.70"/>
<circle cx="171.5" cy="547.5" r="2.70"/>
<circle cx="169.5" cy="551.5" r="2.70"/>
<circle cx="172.5" cy="560.5" r="2.70"/>
<circle cx="174.5" cy="557.5" r="2.70"/>
<circle cx="176.5" cy="559.5" r="2.70"/>
<circle cx="178.5" cy="562.5" r="2.70"/>
<circle cx="179.5" cy="557.5" r="2.70"/>
<circle cx="181.5" cy="554.5" r="2.70"/>
<circle cx="183.5" cy="552.5" r="2.70"/>
<circle cx="184.5" cy="550.5" r="2.70"/>
<circle cx="186.5" cy="543.5" r="2.70"/>
<circle cx="188.5" cy="546.5" r="2.70"/>
<circle cx="189.5" cy="541.5" r="2.70"/>
<circle cx="192.5" cy="536.5" r="2.70"/>
<circle cx="194.5" cy="535.5" r="2.70"/>
<circle cx="198.5" cy="533.5" r="2.70"/>
<circle cx="191.5" cy="489.5" r="2.70"/>
<circle cx="196.5" cy="487.5" r="2.70"/>
<circle cx="199.5" cy="488.5" r="2.70"/>
<circle cx="201.5" cy="497.5" r="2.70"/>
<circle cx="206.5" cy="509.5" r="2.70"/>
<circle cx="213.5" cy="513.5" r="2.70"/>
<circle cx="218.5" cy="516.5" r="2.70"/>
<circle cx="219.5" cy="511.5" r="2.70"/>
<circle cx="224.5" cy="506.5" r="2.70"/>
<circle cx="230.5" cy="507.5" r="2.70"/>
<circle cx="231.5" cy="504.5" r="2.70"/>
<circle cx="235.5" cy="508.5" r="2.70"/>
<circle cx="203.5" cy="541.5" r="2.70"/>
<circle cx="204.5" cy="546.5" r="2.70"/>
<circle cx="208.5" cy="555.5" r="2.70"/>
<circle cx="209.5" cy="557.5" r="2.70"/>
<circle cx="211.5" cy="562.5" r="2.70"/>
<circle cx="213.5" cy="559.5" r="2.70"/>
<circle cx="216.5" cy="558.5" r="2.70"/>
<circle cx="221.5" cy="556.5" r="2.70"/>
<circle cx="223.5" cy="553.5" r="2.70"/>
<circle cx="226.5" cy="547.5" r="2.70"/>
<circle cx="228.5" cy="547.5" r="2.70"/>
<circle cx="233.5" cy="550.5" r="2.70"/>
<circle cx="235.5" cy="550.5" r="2.70"/>
<circle cx="237.5" cy="551.5" r="2.70"/>
<circle cx="240.5" cy="552.5" r="2.70"/>
<circle cx="241.5" cy="554.5" r="2.70"/>
<circle cx="243.5" cy="562.5" r="2.70"/>
<circle cx="246.5" cy="561.5" r="2.70"/>
<circle cx="245.5" cy="566.5" r="2.70"/>
<circle cx="248.5" cy="567.5" r="2.70"/>
<circle cx="250.5" cy="571.5" r="2.70"/>
<circle cx="253.5" cy="571.5" r="2.70"/>
<circle cx="251.5" cy="575.5" r="2.70"/>
<circle cx="258.5" cy="579.5" r="2.70"/>
<circle cx="260.5" cy="581.5" r="2.70"/>
<circle cx="262.5" cy="582.5" r="2.70"/>
<circle cx="265.5" cy="580.5" r="2.70"/>
<circle cx="268.5" cy="584.5" r="2.70"/>
<circle cx="271.5" cy="583.5" r="2.70"/>
<circle cx="273.5" cy="587.5" r="2.70"/>
<circle cx="276.5" cy="586.5" r="2.70"/>
<circle cx="278.5" cy="588.5" r="2.70"/>
<circle cx="283.5" cy="596.5" r="2.70"/>
<circle cx="255.5" cy="529.5" r="2.70"/>
<circle cx="256.5" cy="534.5" r="2.70"/>
<circle cx="313.5" cy="596.5" r="2.70"/>
<circle cx="318.5" cy="582.5" r="2.70"/>
<circle cx="323.5" cy="570.5" r="2.70"/>
<circle cx="310.5" cy="559.5" r="2.70"/>
<circle cx="312.5" cy="556.5" r="2.70"/>
<circle cx="315.5" cy="545.5" r="2.70"/>
<circle cx="317.5" cy="536.5" r="2.70"/>
<circle cx="320.5" cy="534.5" r="2.70"/>
<circle cx="322.5" cy="522.5" r="2.70"/>
<circle cx="325.5" cy="513.5" r="2.70"/>
<circle cx="327.5" cy="500.5" r="2.70"/>
<circle cx="328.5" cy="497.5" r="2.70"/>
<circle cx="330.5" cy="496.5" r="2.70"/>
<circle cx="332.5" cy="499.5" r="2.70"/>
<circle cx="334.5" cy="496.5" r="2.70"/>
<circle cx="336.5" cy="498.5" r="2.70"/>
<circle cx="338.5" cy="496.5" r="2.70"/>
<circle cx="342.5" cy="497.5" r="2.70"/>
<circle cx="340.5" cy="572.5" r="2.70"/>
<circle cx="344.5" cy="514.5" r="2.70"/>
<circle cx="345.5" cy="510.5" r="2.70"/>
<circle cx="347.5" cy="504.5" r="2.70"/>
<circle cx="349.5" cy="505.5" r="2.70"/>
<circle cx="350.5" cy="503.5" r="2.70"/>
<circle cx="352.5" cy="498.5" r="2.70"/>
<circle cx="354.5" cy="492.5" r="2.70"/>
<circle cx="355.5" cy="488.5" r="2.70"/>
<circle cx="357.5" cy="486.5" r="2.70"/>
<circle cx="360.5" cy="485.5" r="2.70"/>
<circle cx="362.5" cy="481.5" r="2.70"/>
<circle cx="364.5" cy="480.5" r="2.70"/>
<circle cx="367.5" cy="488.5" r="2.70"/>
<circle cx="370.5" cy="489.5" r="2.70"/>
<circle cx="359.5" cy="532.5" r="2.70"/>
<circle cx="365.5" cy="528.5" r="2.70"/>
<circle cx="368.5" cy="535.5" r="2.70"/>
<circle cx="372.5" cy="535.5" r="2.70"/>
<circle cx="374.5" cy="542.5" r="2.70"/>
<circle cx="375.5" cy="547.5" r="2.70"/>
<circle cx="377.5" cy="550.5" r="2.70"/>
<circle cx="382.5" cy="548.5" r="2.70"/>
<circle cx="384.5" cy="551.5" r="2.70"/>
<circle cx="385.5" cy="556.5" r="2.70"/>
<circle cx="389.5" cy="555.5" r="2.70"/>
<circle cx="393.5" cy="546.5" r="2.70"/>
<circle cx="395.5" cy="541.5" r="2.70"/>
<circle cx="397.5" cy="538.5" r="2.70"/>
<circle cx="400.5" cy="525.5" r="2.70"/>
<circle cx="402.5" cy="525.5" r="2.70"/>
<circle cx="404.5" cy="519.5" r="2.70"/>
<circle cx="406.5" cy="512.5" r="2.70"/>
<circle cx="408.5" cy="510.5" r="2.70"/>
<circle cx="410.5" cy="508.5" r="2.70"/>
<circle cx="411.5" cy="506.5" r="2.70"/>
<circle cx="412.5" cy="501.5" r="2.70"/>
<circle cx="416.5" cy="495.5" r="2.70"/>
<circle cx="417.5" cy="491.5" r="2.70"/>
<circle cx="419.5" cy="492.5" r="2.70"/>
<circle cx="422.5" cy="494.5" r="2.70"/>
<circle cx="424.5" cy="496.5" r="2.70"/>
<circle cx="414.5" cy="544.5" r="2.70"/>
<circle cx="399.5" cy="580.5" r="2.70"/>
<circle cx="379.5" cy="594.5" r="2.70"/>
<circle cx="391.5" cy="598.5" r="2.70"/>
<circle cx="431.5" cy="509.5" r="2.70"/>
<circle cx="421.5" cy="447.5" r="2.70"/>
<circle cx="425.5" cy="450.5" r="2.70"/>
<circle cx="428.5" cy="456.5" r="2.70"/>
<circle cx="430.5" cy="461.5" r="2.70"/>
<circle cx="285.5" cy="603.5" r="2.70"/>
<circle cx="290.5" cy="605.5" r="2.70"/>
<circle cx="292.5" cy="605.5" r="2.70"/>
<circle cx="294.5" cy="605.5" r="2.70"/>
<circle cx="295.5" cy="607.5" r="2.70"/>
<circle cx="296.5" cy="606.5" r="2.70"/>
<circle cx="297.5" cy="610.5" r="2.70"/>
<circle cx="298.5" cy="611.5" r="2.70"/>
<circle cx="300.5" cy="611.5" r="2.70"/>
<circle cx="302.5" cy="609.5" r="2.70"/>
<circle cx="303.5" cy="608.5" r="2.70"/>
<circle cx="305.5" cy="607.5" r="2.70"/>
<circle cx="307.5" cy="607.5" r="2.70"/>
<circle cx="308.5" cy="605.5" r="2.70"/>
<circle cx="275.5" cy="628.5" r="2.70"/>
<circle cx="280.5" cy="635.5" r="2.70"/>
<circle cx="281.5" cy="640.5" r="2.70"/>
<circle cx="287.5" cy="648.5" r="2.70"/>
<circle cx="288.5" cy="650.5" r="2.70"/>
<circle cx="292.5" cy="652.5" r="2.70"/>
<circle cx="390.5" cy="599.5" r="2.70"/>
<circle cx="434.5" cy="468.5" r="2.70"/>
<circle cx="436.5" cy="523.5" r="2.70"/>
<circle cx="437.5" cy="523.5" r="2.70"/>
<circle cx="439.5" cy="528.5" r="2.70"/>
<circle cx="441.5" cy="490.5" r="2.70"/>
<circle cx="442.5" cy="493.5" r="2.70"/>
<circle cx="447.5" cy="501.5" r="2.70"/>
<circle cx="461.5" cy="498.5" r="2.70"/>
<circle cx="443.5" cy="540.5" r="2.70"/>
<circle cx="446.5" cy="540.5" r="2.70"/>
<circle cx="449.5" cy="544.5" r="2.70"/>
<circle cx="451.5" cy="542.5" r="2.70"/>
<circle cx="454.5" cy="543.5" r="2.70"/>
<circle cx="456.5" cy="540.5" r="2.70"/>
<circle cx="459.5" cy="543.5" r="2.70"/>
<circle cx="461.5" cy="542.5" r="2.70"/>
<circle cx="463.5" cy="541.5" r="2.70"/>
<circle cx="466.5" cy="544.5" r="2.70"/>
<circle cx="468.5" cy="535.5" r="2.70"/>
<circle cx="471.5" cy="539.5" r="2.70"/>
<circle cx="470.5" cy="534.5" r="2.70"/>
<circle cx="474.5" cy="533.5" r="2.70"/>
<circle cx="479.5" cy="522.5" r="2.70"/>
<circle cx="481.5" cy="517.5" r="2.70"/>
<circle cx="483.5" cy="513.5" r="2.70"/>
<circle cx="484.5" cy="516.5" r="2.70"/>
<circle cx="475.5" cy="482.5" r="2.70"/>
<circle cx="478.5" cy="480.5" r="2.70"/>
<circle cx="486.5" cy="469.5" r="2.70"/>
<circle cx="488.5" cy="464.5" r="2.70"/>
<circle cx="489.5" cy="463.5" r="2.70"/>
<circle cx="493.5" cy="456.5" r="2.70"/>
<circle cx="494.5" cy="459.5" r="2.70"/>
<circle cx="496.5" cy="459.5" r="2.70"/>
<circle cx="491.5" cy="503.5" r="2.70"/>
<circle cx="498.5" cy="499.5" r="2.70"/>
<circle cx="499.5" cy="502.5" r="2.70"/>
<circle cx="501.5" cy="510.5" r="2.70"/>
<circle cx="503.5" cy="506.5" r="2.70"/>
<circle cx="504.5" cy="509.5" r="2.70"/>
<circle cx="506.5" cy="511.5" r="2.70"/>
<circle cx="508.5" cy="516.5" r="2.70"/>
<circle cx="510.5" cy="517.5" r="2.70"/>
<circle cx="511.5" cy="518.5" r="2.70"/>
<circle cx="513.5" cy="524.5" r="2.70"/>
<circle cx="514.5" cy="529.5" r="2.70"/>
<circle cx="516.5" cy="536.5" r="2.70"/>
<circle cx="520.5" cy="545.5" r="2.70"/>
<circle cx="521.5" cy="556.5" r="2.70"/>
<circle cx="518.5" cy="586.5" r="2.70"/>
<circle cx="523.5" cy="600.5" r="2.70"/>
<circle cx="530.5" cy="572.5" r="2.70"/>
<circle cx="532.5" cy="571.5" r="2.70"/>
<circle cx="535.5" cy="572.5" r="2.70"/>
<circle cx="537.5" cy="571.5" r="2.70"/>
<circle cx="540.5" cy="567.5" r="2.70"/>
<circle cx="541.5" cy="570.5" r="2.70"/>
<circle cx="543.5" cy="569.5" r="2.70"/>
<circle cx="545.5" cy="563.5" r="2.70"/>
<circle cx="548.5" cy="555.5" r="2.70"/>
<circle cx="550.5" cy="554.5" r="2.70"/>
<circle cx="551.5" cy="551.5" r="2.70"/>
<circle cx="553.5" cy="553.5" r="2.70"/>
<circle cx="546.5" cy="513.5" r="2.70"/>
<circle cx="555.5" cy="505.5" r="2.70"/>
<circle cx="556.5" cy="502.5" r="2.70"/>
<circle cx="558.5" cy="500.5" r="2.70"/>
<circle cx="565.5" cy="503.5" r="2.70"/>
<circle cx="566.5" cy="505.5" r="2.70"/>
<circle cx="573.5" cy="518.5" r="2.70"/>
<circle cx="560.5" cy="544.5" r="2.70"/>
<circle cx="562.5" cy="546.5" r="2.70"/>
<circle cx="563.5" cy="547.5" r="2.70"/>
<circle cx="568.5" cy="554.5" r="2.70"/>
<circle cx="569.5" cy="556.5" r="2.70"/>
<circle cx="571.5" cy="558.5" r="2.70"/>
<circle cx="576.5" cy="564.5" r="2.70"/>
<circle cx="575.5" cy="569.5" r="2.70"/>
<circle cx="578.5" cy="567.5" r="2.70"/>
<circle cx="579.5" cy="570.5" r="2.70"/>
<circle cx="581.5" cy="571.5" r="2.70"/>
<circle cx="583.5" cy="573.5" r="2.70"/>
<circle cx="585.5" cy="573.5" r="2.70"/>
<circle cx="587.5" cy="577.5" r="2.70"/>
<circle cx="589.5" cy="576.5" r="2.70"/>
<circle cx="592.5" cy="576.5" r="2.70"/>
<circle cx="594.5" cy="578.5" r="2.70"/>
<circle cx="596.5" cy="579.5" r="2.70"/>
<circle cx="597.5" cy="581.5" r="2.70"/>
<circle cx="598.5" cy="579.5" r="2.70"/>
<circle cx="602.5" cy="571.5" r="2.70"/>
<circle cx="605.5" cy="564.5" r="2.70"/>
<circle cx="607.5" cy="560.5" r="2.70"/>
<circle cx="608.5" cy="557.5" r="2.70"/>
<circle cx="610.5" cy="555.5" r="2.70"/>
<circle cx="612.5" cy="550.5" r="2.70"/>
<circle cx="614.5" cy="547.5" r="2.70"/>
<circle cx="615.5" cy="545.5" r="2.70"/>
<circle cx="617.5" cy="543.5" r="2.70"/>
<circle cx="618.5" cy="548.5" r="2.70"/>
<circle cx="620.5" cy="546.5" r="2.70"/>
<circle cx="623.5" cy="553.5" r="2.70"/>
<circle cx="624.5" cy="548.5" r="2.70"/>
<circle cx="626.5" cy="546.5" r="2.70"/>
<circle cx="628.5" cy="549.5" r="2.70"/>
<circle cx="630.5" cy="546.5" r="2.70"/>
<circle cx="632.5" cy="546.5" r="2.70"/>
<circle cx="633.5" cy="545.5" r="2.70"/>
<circle cx="635.5" cy="540.5" r="2.70"/>
<circle cx="637.5" cy="542.5" r="2.70"/>
<circle cx="639.5" cy="541.5" r="2.70"/>
<circle cx="640.5" cy="533.5" r="2.70"/>
<circle cx="642.5" cy="529.5" r="2.70"/>
<circle cx="644.5" cy="522.5" r="2.70"/>
<circle cx="645.5" cy="520.5" r="2.70"/>
<circle cx="647.5" cy="509.5" r="2.70"/>
<circle cx="649.5" cy="505.5" r="2.70"/>
<circle cx="650.5" cy="508.5" r="2.70"/>
<circle cx="652.5" cy="506.5" r="2.70"/>
<circle cx="654.5" cy="507.5" r="2.70"/>
<circle cx="655.5" cy="501.5" r="2.70"/>
<circle cx="657.5" cy="496.5" r="2.70"/>
<circle cx="658.5" cy="497.5" r="2.70"/>
<circle cx="660.5" cy="497.5" r="2.70"/>
<circle cx="662.5" cy="550.5" r="2.70"/>
<circle cx="663.5" cy="551.5" r="2.70"/>
<circle cx="665.5" cy="553.5" r="2.70"/>
<circle cx="667.5" cy="555.5" r="2.70"/>
<circle cx="525.5" cy="609.5" r="2.70"/>
<circle cx="526.5" cy="611.5" r="2.70"/>
<circle cx="527.5" cy="613.5" r="2.70"/>
<circle cx="528.5" cy="614.5" r="2.70"/>
<circle cx="533.5" cy="618.5" r="2.70"/>
<circle cx="531.5" cy="621.5" r="2.70"/>
<circle cx="603.5" cy="611.5" r="2.70"/>
<circle cx="600.5" cy="621.5" r="2.70"/>
</g>
<g stroke="#000" stroke-width="3.00" fill="none">
<line x1="118.00" y1="99.50" x2="140.00" y2="99.50"/>
<line x1="118.00" y1="237.50" x2="140.00" y2="237.50"/>
<line x1="118.00" y1="375.50" x2="140.00" y2="375.50"/>
<line x1="118.00" y1="513.50" x2="140.00" y2="513.50"/>
<line x1="118.00" y1="651.50" x2="140.00" y2="651.50"/>
<line x1="166.50" y1="680.00" x2="166.50" y2="702.00"/>
<line x1="417.50" y1="680.00" x2="417.50" y2="702.00"/>
<line x1="668.50" y1="680.00" x2="668.50" y2="702.00"/>
</g>
<rect x="140.00" y="64.00" width="553.00" height="616.00" fill="none" stroke="#000" stroke-width="4.00"/>
<text x="164.90" y="737.7" font-size="40.5" text-anchor="middle" textLength="46.5" lengthAdjust="spacingAndGlyphs">0.0</text>
<text x="415.90" y="737.7" font-size="40.5" text-anchor="middle" textLength="46.5" lengthAdjust="spacingAndGlyphs">0.5</text>
<text x="664.50" y="737.7" font-size="40.5" text-anchor="middle" textLength="46.5" lengthAdjust="spacingAndGlyphs">1.0</text>
<text x="414.80" y="45.8" font-size="56" stroke-width="0.8" text-anchor="middle" textLength="236" lengthAdjust="spacingAndGlyphs">RS307LBA</text>
</g>
<g transform="translate(1827,0)">
<g fill="#1f77b4">
<circle cx="268.5" cy="165.5" r="2.70"/>
<circle cx="256.5" cy="172.5" r="2.70"/>
<circle cx="243.5" cy="180.5" r="2.70"/>
<circle cx="246.5" cy="178.5" r="2.70"/>
<circle cx="248.5" cy="180.5" r="2.70"/>
<circle cx="249.5" cy="182.5" r="2.70"/>
<circle cx="263.5" cy="185.5" r="2.70"/>
<circle cx="244.5" cy="190.5" r="2.70"/>
<circle cx="241.5" cy="193.5" r="2.70"/>
<circle cx="260.5" cy="194.5" r="2.70"/>
<circle cx="273.5" cy="193.5" r="2.70"/>
<circle cx="238.5" cy="199.5" r="2.70"/>
<circle cx="231.5" cy="205.5" r="2.70"/>
<circle cx="236.5" cy="204.5" r="2.70"/>
<circle cx="239.5" cy="209.5" r="2.70"/>
<circle cx="276.5" cy="229.5" r="2.70"/>
<circle cx="229.5" cy="236.5" r="2.70"/>
<circle cx="290.5" cy="235.5" r="2.70"/>
<circle cx="288.5" cy="241.5" r="2.70"/>
<circle cx="281.5" cy="253.5" r="2.70"/>
<circle cx="258.5" cy="258.5" r="2.70"/>
<circle cx="283.5" cy="259.5" r="2.70"/>
<circle cx="278.5" cy="264.5" r="2.70"/>
<circle cx="255.5" cy="282.5" r="2.70"/>
<circle cx="285.5" cy="284.5" r="2.70"/>
<circle cx="280.5" cy="289.5" r="2.70"/>
<circle cx="291.5" cy="288.5" r="2.70"/>
<circle cx="325.5" cy="290.5" r="2.70"/>
<circle cx="293.5" cy="295.5" r="2.70"/>
<circle cx="270.5" cy="296.5" r="2.70"/>
<circle cx="228.5" cy="298.5" r="2.70"/>
<circle cx="286.5" cy="299.5" r="2.70"/>
<circle cx="355.5" cy="297.5" r="2.70"/>
<circle cx="353.5" cy="303.5" r="2.70"/>
<circle cx="358.5" cy="307.5" r="2.70"/>
<circle cx="265.5" cy="308.5" r="2.70"/>
<circle cx="360.5" cy="314.5" r="2.70"/>
<circle cx="362.5" cy="317.5" r="2.70"/>
<circle cx="295.5" cy="314.5" r="2.70"/>
<circle cx="296.5" cy="319.5" r="2.70"/>
<circle cx="251.5" cy="319.5" r="2.70"/>
<circle cx="261.5" cy="321.5" r="2.70"/>
<circle cx="266.5" cy="330.5" r="2.70"/>
<circle cx="298.5" cy="330.5" r="2.70"/>
<circle cx="253.5" cy="342.5" r="2.70"/>
<circle cx="271.5" cy="344.5" r="2.70"/>
<circle cx="323.5" cy="346.5" r="2.70"/>
<circle cx="357.5" cy="344.5" r="2.70"/>
<circle cx="350.5" cy="346.5" r="2.70"/>
<circle cx="352.5" cy="347.5" r="2.70"/>
<circle cx="224.5" cy="347.5" r="2.70"/>
<circle cx="226.5" cy="346.5" r="2.70"/>
<circle cx="234.5" cy="350.5" r="2.70"/>
<circle cx="233.5" cy="352.5" r="2.70"/>
<circle cx="322.5" cy="349.5" r="2.70"/>
<circle cx="320.5" cy="351.5" r="2.70"/>
<circle cx="318.5" cy="353.5" r="2.70"/>
<circle cx="314.5" cy="356.5" r="2.70"/>
<circle cx="317.5" cy="357.5" r="2.70"/>
<circle cx="348.5" cy="353.5" r="2.70"/>
<circle cx="346.5" cy="354.5" r="2.70"/>
<circle cx="345.5" cy="357.5" r="2.70"/>
<circle cx="219.5" cy="367.5" r="2.70"/>
<circle cx="275.5" cy="372.5" r="2.70"/>
<circle cx="363.5" cy="369.5" r="2.70"/>
<circle cx="342.5" cy="374.5" r="2.70"/>
<circle cx="365.5" cy="380.5" r="2.70"/>
<circle cx="367.5" cy="394.5" r="2.70"/>
<circle cx="368.5" cy="402.5" r="2.70"/>
<circle cx="370.5" cy="414.5" r="2.70"/>
<circle cx="372.5" cy="428.5" r="2.70"/>
<circle cx="374.5" cy="434.5" r="2.70"/>
<circle cx="375.5" cy="440.5" r="2.70"/>
<circle cx="377.5" cy="450.5" r="2.70"/>
<circle cx="379.5" cy="461.5" r="2.70"/>
<circle cx="380.5" cy="471.5" r="2.70"/>
<circle cx="382.5" cy="477.5" r="2.70"/>
<circle cx="384.5" cy="481.5" r="2.70"/>
<circle cx="385.5" cy="484.5" r="2.70"/>
<circle cx="389.5" cy="482.5" r="2.70"/>
<circle cx="392.5" cy="489.5" r="2.70"/>
<circle cx="394.5" cy="489.5" r="2.70"/>
<circle cx="387.5" cy="493.5" r="2.70"/>
<circle cx="211.5" cy="400.5" r="2.70"/>
<circle cx="223.5" cy="404.5" r="2.70"/>
<circle cx="221.5" cy="410.5" r="2.70"/>
<circle cx="204.5" cy="412.5" r="2.70"/>
<circle cx="201.5" cy="418.5" r="2.70"/>
<circle cx="206.5" cy="417.5" r="2.70"/>
<circle cx="189.5" cy="420.5" r="2.70"/>
<circle cx="218.5" cy="421.5" r="2.70"/>
<circle cx="199.5" cy="423.5" r="2.70"/>
<circle cx="203.5" cy="424.5" r="2.70"/>
<circle cx="198.5" cy="428.5" r="2.70"/>
<circle cx="214.5" cy="430.5" r="2.70"/>
<circle cx="216.5" cy="431.5" r="2.70"/>
<circle cx="213.5" cy="439.5" r="2.70"/>
<circle cx="194.5" cy="439.5" r="2.70"/>
<circle cx="196.5" cy="442.5" r="2.70"/>
<circle cx="208.5" cy="459.5" r="2.70"/>
<circle cx="209.5" cy="458.5" r="2.70"/>
<circle cx="192.5" cy="460.5" r="2.70"/>
<circle cx="191.5" cy="464.5" r="2.70"/>
<circle cx="303.5" cy="396.5" r="2.70"/>
<circle cx="300.5" cy="398.5" r="2.70"/>
<circle cx="301.5" cy="400.5" r="2.70"/>
<circle cx="305.5" cy="415.5" r="2.70"/>
<circle cx="307.5" cy="414.5" r="2.70"/>
<circle cx="309.5" cy="413.5" r="2.70"/>
<circle cx="311.5" cy="412.5" r="2.70"/>
<circle cx="313.5" cy="413.5" r="2.70"/>
<circle cx="343.5" cy="405.5" r="2.70"/>
<circle cx="340.5" cy="415.5" r="2.70"/>
<circle cx="338.5" cy="421.5" r="2.70"/>
<circle cx="337.5" cy="439.5" r="2.70"/>
<circle cx="332.5" cy="446.5" r="2.70"/>
<circle cx="335.5" cy="452.5" r="2.70"/>
<circle cx="333.5" cy="456.5" r="2.70"/>
<circle cx="327.5" cy="479.5" r="2.70"/>
<circle cx="328.5" cy="481.5" r="2.70"/>
<circle cx="410.5" cy="472.5" r="2.70"/>
<circle cx="412.5" cy="473.5" r="2.70"/>
<circle cx="409.5" cy="476.5" r="2.70"/>
<circle cx="407.5" cy="478.5" r="2.70"/>
<circle cx="405.5" cy="481.5" r="2.70"/>
<circle cx="415.5" cy="480.5" r="2.70"/>
<circle cx="417.5" cy="478.5" r="2.70"/>
<circle cx="418.5" cy="480.5" r="2.70"/>
<circle cx="420.5" cy="482.5" r="2.70"/>
<circle cx="186.5" cy="493.5" r="2.70"/>
<circle cx="184.5" cy="505.5" r="2.70"/>
<circle cx="181.5" cy="508.5" r="2.70"/>
<circle cx="169.5" cy="527.5" r="2.70"/>
<circle cx="187.5" cy="526.5" r="2.70"/>
<circle cx="414.5" cy="518.5" r="2.70"/>
<circle cx="425.5" cy="508.5" r="2.70"/>
<circle cx="427.5" cy="511.5" r="2.70"/>
<circle cx="429.5" cy="521.5" r="2.70"/>
<circle cx="431.5" cy="528.5" r="2.70"/>
<circle cx="330.5" cy="530.5" r="2.70"/>
<circle cx="390.5" cy="529.5" r="2.70"/>
<circle cx="402.5" cy="530.5" r="2.70"/>
<circle cx="404.5" cy="529.5" r="2.70"/>
<circle cx="400.5" cy="536.5" r="2.70"/>
<circle cx="397.5" cy="547.5" r="2.70"/>
<circle cx="399.5" cy="548.5" r="2.70"/>
<circle cx="395.5" cy="550.5" r="2.70"/>
<circle cx="422.5" cy="539.5" r="2.70"/>
<circle cx="424.5" cy="543.5" r="2.70"/>
<circle cx="431.5" cy="570.5" r="2.70"/>
<circle cx="166.5" cy="563.5" r="2.70"/>
<circle cx="171.5" cy="562.5" r="2.70"/>
<circle cx="172.5" cy="564.5" r="2.70"/>
<circle cx="182.5" cy="562.5" r="2.70"/>
<circle cx="179.5" cy="570.5" r="2.70"/>
<circle cx="167.5" cy="574.5" r="2.70"/>
<circle cx="174.5" cy="575.5" r="2.70"/>
<circle cx="176.5" cy="577.5" r="2.70"/>
<circle cx="176.5" cy="579.5" r="2.70"/>
<circle cx="533.5" cy="92.5" r="2.70"/>
<circle cx="588.5" cy="213.5" r="2.70"/>
<circle cx="511.5" cy="281.5" r="2.70"/>
<circle cx="548.5" cy="291.5" r="2.70"/>
<circle cx="565.5" cy="289.5" r="2.70"/>
<circle cx="578.5" cy="299.5" r="2.70"/>
<circle cx="601.5" cy="306.5" r="2.70"/>
<circle cx="610.5" cy="320.5" r="2.70"/>
<circle cx="526.5" cy="310.5" r="2.70"/>
<circle cx="524.5" cy="315.5" r="2.70"/>
<circle cx="523.5" cy="317.5" r="2.70"/>
<circle cx="519.5" cy="317.5" r="2.70"/>
<circle cx="518.5" cy="319.5" r="2.70"/>
<circle cx="531.5" cy="321.5" r="2.70"/>
<circle cx="514.5" cy="332.5" r="2.70"/>
<circle cx="521.5" cy="332.5" r="2.70"/>
<circle cx="516.5" cy="336.5" r="2.70"/>
<circle cx="528.5" cy="334.5" r="2.70"/>
<circle cx="529.5" cy="338.5" r="2.70"/>
<circle cx="534.5" cy="334.5" r="2.70"/>
<circle cx="536.5" cy="333.5" r="2.70"/>
<circle cx="541.5" cy="332.5" r="2.70"/>
<circle cx="546.5" cy="331.5" r="2.70"/>
<circle cx="543.5" cy="338.5" r="2.70"/>
<circle cx="539.5" cy="347.5" r="2.70"/>
<circle cx="544.5" cy="348.5" r="2.70"/>
<circle cx="553.5" cy="357.5" r="2.70"/>
<circle cx="598.5" cy="333.5" r="2.70"/>
<circle cx="600.5" cy="339.5" r="2.70"/>
<circle cx="613.5" cy="334.5" r="2.70"/>
<circle cx="612.5" cy="336.5" r="2.70"/>
<circle cx="603.5" cy="349.5" r="2.70"/>
<circle cx="605.5" cy="349.5" r="2.70"/>
<circle cx="608.5" cy="354.5" r="2.70"/>
<circle cx="606.5" cy="359.5" r="2.70"/>
<circle cx="617.5" cy="364.5" r="2.70"/>
<circle cx="496.5" cy="387.5" r="2.70"/>
<circle cx="501.5" cy="389.5" r="2.70"/>
<circle cx="499.5" cy="394.5" r="2.70"/>
<circle cx="494.5" cy="395.5" r="2.70"/>
<circle cx="492.5" cy="397.5" r="2.70"/>
<circle cx="490.5" cy="398.5" r="2.70"/>
<circle cx="489.5" cy="399.5" r="2.70"/>
<circle cx="538.5" cy="392.5" r="2.70"/>
<circle cx="593.5" cy="398.5" r="2.70"/>
<circle cx="590.5" cy="412.5" r="2.70"/>
<circle cx="595.5" cy="415.5" r="2.70"/>
<circle cx="653.5" cy="409.5" r="2.70"/>
<circle cx="482.5" cy="412.5" r="2.70"/>
<circle cx="484.5" cy="423.5" r="2.70"/>
<circle cx="481.5" cy="434.5" r="2.70"/>
<circle cx="479.5" cy="437.5" r="2.70"/>
<circle cx="477.5" cy="447.5" r="2.70"/>
<circle cx="474.5" cy="461.5" r="2.70"/>
<circle cx="472.5" cy="464.5" r="2.70"/>
<circle cx="452.5" cy="436.5" r="2.70"/>
<circle cx="459.5" cy="435.5" r="2.70"/>
<circle cx="498.5" cy="441.5" r="2.70"/>
<circle cx="503.5" cy="438.5" r="2.70"/>
<circle cx="504.5" cy="440.5" r="2.70"/>
<circle cx="506.5" cy="449.5" r="2.70"/>
<circle cx="508.5" cy="456.5" r="2.70"/>
<circle cx="509.5" cy="459.5" r="2.70"/>
<circle cx="513.5" cy="464.5" r="2.70"/>
<circle cx="486.5" cy="460.5" r="2.70"/>
<circle cx="487.5" cy="460.5" r="2.70"/>
<circle cx="560.5" cy="430.5" r="2.70"/>
<circle cx="575.5" cy="427.5" r="2.70"/>
<circle cx="555.5" cy="441.5" r="2.70"/>
<circle cx="561.5" cy="439.5" r="2.70"/>
<circle cx="596.5" cy="438.5" r="2.70"/>
<circle cx="667.5" cy="432.5" r="2.70"/>
<circle cx="662.5" cy="447.5" r="2.70"/>
<circle cx="665.5" cy="453.5" r="2.70"/>
<circle cx="663.5" cy="456.5" r="2.70"/>
<circle cx="655.5" cy="461.5" r="2.70"/>
<circle cx="658.5" cy="463.5" r="2.70"/>
<circle cx="660.5" cy="462.5" r="2.70"/>
<circle cx="615.5" cy="459.5" r="2.70"/>
<circle cx="591.5" cy="462.5" r="2.70"/>
<circle cx="586.5" cy="465.5" r="2.70"/>
<circle cx="581.5" cy="467.5" r="2.70"/>
<circle cx="576.5" cy="472.5" r="2.70"/>
<circle cx="571.5" cy="477.5" r="2.70"/>
<circle cx="566.5" cy="479.5" r="2.70"/>
<circle cx="580.5" cy="479.5" r="2.70"/>
<circle cx="558.5" cy="474.5" r="2.70"/>
<circle cx="556.5" cy="481.5" r="2.70"/>
<circle cx="618.5" cy="487.5" r="2.70"/>
<circle cx="623.5" cy="495.5" r="2.70"/>
<circle cx="625.5" cy="494.5" r="2.70"/>
<circle cx="633.5" cy="504.5" r="2.70"/>
<circle cx="635.5" cy="508.5" r="2.70"/>
<circle cx="628.5" cy="517.5" r="2.70"/>
<circle cx="627.5" cy="521.5" r="2.70"/>
<circle cx="563.5" cy="495.5" r="2.70"/>
<circle cx="570.5" cy="495.5" r="2.70"/>
<circle cx="573.5" cy="495.5" r="2.70"/>
<circle cx="550.5" cy="506.5" r="2.70"/>
<circle cx="583.5" cy="506.5" r="2.70"/>
<circle cx="456.5" cy="489.5" r="2.70"/>
<circle cx="454.5" cy="493.5" r="2.70"/>
<circle cx="457.5" cy="496.5" r="2.70"/>
<circle cx="462.5" cy="495.5" r="2.70"/>
<circle cx="476.5" cy="494.5" r="2.70"/>
<circle cx="447.5" cy="508.5" r="2.70"/>
<circle cx="449.5" cy="515.5" r="2.70"/>
<circle cx="442.5" cy="519.5" r="2.70"/>
<circle cx="469.5" cy="521.5" r="2.70"/>
<circle cx="471.5" cy="521.5" r="2.70"/>
<circle cx="434.5" cy="530.5" r="2.70"/>
<circle cx="461.5" cy="530.5" r="2.70"/>
<circle cx="652.5" cy="521.5" r="2.70"/>
<circle cx="657.5" cy="520.5" r="2.70"/>
<circle cx="466.5" cy="533.5" r="2.70"/>
<circle cx="467.5" cy="540.5" r="2.70"/>
<circle cx="451.5" cy="550.5" r="2.70"/>
<circle cx="464.5" cy="561.5" r="2.70"/>
<circle cx="446.5" cy="564.5" r="2.70"/>
<circle cx="436.5" cy="574.5" r="2.70"/>
<circle cx="438.5" cy="575.5" r="2.70"/>
<circle cx="441.5" cy="574.5" r="2.70"/>
<circle cx="439.5" cy="582.5" r="2.70"/>
<circle cx="444.5" cy="581.5" r="2.70"/>
<circle cx="568.5" cy="536.5" r="2.70"/>
<circle cx="551.5" cy="553.5" r="2.70"/>
<circle cx="585.5" cy="556.5" r="2.70"/>
<circle cx="637.5" cy="542.5" r="2.70"/>
<circle cx="638.5" cy="543.5" r="2.70"/>
<circle cx="648.5" cy="540.5" r="2.70"/>
<circle cx="650.5" cy="542.5" r="2.70"/>
<circle cx="645.5" cy="545.5" r="2.70"/>
<circle cx="647.5" cy="545.5" r="2.70"/>
<circle cx="643.5" cy="550.5" r="2.70"/>
<circle cx="640.5" cy="553.5" r="2.70"/>
<circle cx="642.5" cy="557.5" r="2.70"/>
<circle cx="622.5" cy="546.5" r="2.70"/>
<circle cx="620.5" cy="549.5" r="2.70"/>
<circle cx="630.5" cy="554.5" r="2.70"/>
<circle cx="632.5" cy="555.5" r="2.70"/>
</g>
<g stroke="#000" stroke-width="3.00" fill="none">
<line x1="118.00" y1="99.50" x2="140.00" y2="99.50"/>
<line x1="118.00" y1="237.50" x2="140.00" y2="237.50"/>
<line x1="118.00" y1="375.50" x2="140.00" y2="375.50"/>
<line x1="118.00" y1="513.50" x2="140.00" y2="513.50"/>
<line x1="118.00" y1="651.50" x2="140.00" y2="651.50"/>
<line x1="166.50" y1="680.00" x2="166.50" y2="702.00"/>
<line x1="417.50" y1="680.00" x2="417.50" y2="702.00"/>
<line x1="668.50" y1="680.00" x2="668.50" y2="702.00"/>
</g>
<rect x="140.00" y="64.00" width="553.00" height="616.00" fill="none" stroke="#000" stroke-width="4.00"/>
<text x="164.90" y="737.7" font-size="40.5" text-anchor="middle" textLength="46.5" lengthAdjust="spacingAndGlyphs">0.0</text>
<text x="415.90" y="737.7" font-size="40.5" text-anchor="middle" textLength="46.5" lengthAdjust="spacingAndGlyphs">0.5</text>
<text x="664.50" y="737.7" font-size="40.5" text-anchor="middle" textLength="46.5" lengthAdjust="spacingAndGlyphs">1.0</text>
<text x="414.80" y="45.8" font-size="56" stroke-width="0.8" text-anchor="middle" textLength="236" lengthAdjust="spacingAndGlyphs">RS508LBA</text>
</g>
<text x="106.70" y="110.70" font-size="40.5" text-anchor="end" textLength="64.5" lengthAdjust="spacingAndGlyphs">0.15</text>
<text x="106.70" y="248.85" font-size="40.5" text-anchor="end" textLength="64.5" lengthAdjust="spacingAndGlyphs">0.10</text>
<text x="106.70" y="387.60" font-size="40.5" text-anchor="end" textLength="64.5" lengthAdjust="spacingAndGlyphs">0.05</text>
<text x="106.70" y="525.85" font-size="40.5" text-anchor="end" textLength="64.5" lengthAdjust="spacingAndGlyphs">0.00</text>
<text y="666.70" font-size="40.5"><tspan x="13.4" dy="4.2" textLength="25.8" lengthAdjust="spacingAndGlyphs">−</tspan><tspan x="39.9" dy="-4.2" textLength="64.5" lengthAdjust="spacingAndGlyphs">0.05</tspan></text>
<text transform="translate(39.9,499.5) rotate(-90)" font-size="45.3" text-anchor="start" textLength="90" lengthAdjust="spacingAndGlyphs">TEC</text>
<text transform="translate(39.9,392.6) rotate(-90)" font-size="45.3" text-anchor="start" textLength="145" lengthAdjust="spacingAndGlyphs"><tspan font-size="50.3">(</tspan>TECu<tspan font-size="50.3">)</tspan></text>
<text x="1242.7" y="788.9" font-size="45.3" text-anchor="start" textLength="85.5" lengthAdjust="spacingAndGlyphs">time</text>
<text x="1343.3" y="788.9" font-size="45.3" text-anchor="start" textLength="70.5" lengthAdjust="spacingAndGlyphs"><tspan font-size="50.3">(</tspan>hr<tspan font-size="50.3">)</tspan></text>
</svg></body></html>
